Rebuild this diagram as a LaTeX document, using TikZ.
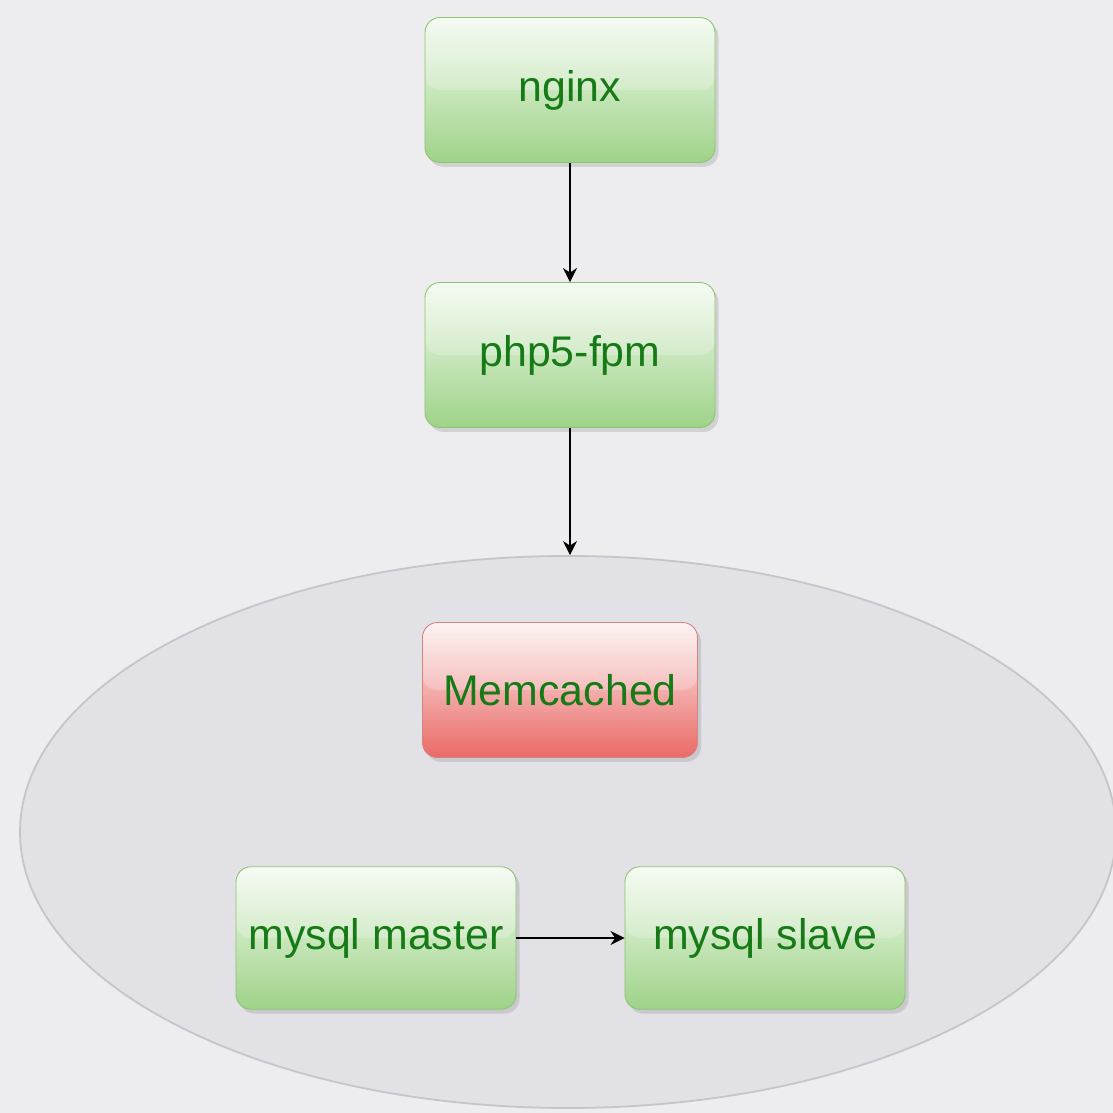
\documentclass[tikz,border=0pt]{standalone}
\usepackage{fontspec}
\setmainfont{Liberation Sans}
\usetikzlibrary{shapes.geometric,shadows,arrows.meta}

\definecolor{bggray}{RGB}{237,237,240}
\definecolor{ellfill}{RGB}{226,225,230}
\definecolor{elldraw}{RGB}{196,196,202}
\definecolor{greentop}{RGB}{243,250,240}
\definecolor{greenmid}{RGB}{184,225,165}
\definecolor{greenbot}{RGB}{158,211,136}
\definecolor{greenline}{RGB}{140,196,112}
\definecolor{redtop}{RGB}{253,241,241}
\definecolor{redmid}{RGB}{240,160,158}
\definecolor{redbot}{RGB}{233,106,102}
\definecolor{redline}{RGB}{214,130,128}
\definecolor{labelgreen}{RGB}{22,122,22}

\tikzset{
  box/.style={rectangle,rounded corners=0.3cm,draw=greenline,line width=0.5pt,
    top color=greentop,middle color=greenmid,bottom color=greenbot,
    drop shadow={opacity=0.25,shadow xshift=2pt,shadow yshift=-2.5pt},
    path picture={\fill[white,opacity=0.22]
      (path picture bounding box.north west) rectangle (path picture bounding box.east);},
    text=labelgreen,font=\fontsize{24.4}{28}\selectfont,inner sep=2pt,
    minimum width=5.6cm,minimum height=2.85cm},
  redbox/.style={draw=redline,top color=redtop,middle color=redmid,bottom color=redbot},
  cluster/.style={ellipse,draw=elldraw,fill=ellfill,line width=1pt,inner sep=0pt,
    minimum width=21.92cm,minimum height=11.04cm}
}

\begin{document}
\begin{tikzpicture}

      \fill[bggray] (0,0) rectangle (22.26,22.26);
      \useasboundingbox (0,0) rectangle (22.26,22.26);

      \node[cluster] (db) at (11.36,5.62) {};

      \begin{scope}[every node/.style={box}]
        \node[minimum width=5.8cm,minimum height=2.9cm] (nginx) at (11.40,20.46) {nginx};
        \node[minimum width=5.8cm,minimum height=2.9cm] (php)   at (11.40,15.16) {php5-fpm};
        \node[redbox,minimum width=5.5cm,minimum height=2.7cm] (memcached) at (11.20,8.46) {Memcached};
        \node (master) at (7.52,3.50)  {mysql master};
        \node (slave)  at (15.30,3.50) {mysql slave};
      \end{scope}

      \begin{scope}[every edge/.style={draw,line width=0.7pt,-{Stealth[length=8pt,width=8pt]}}]
        \path (nginx)  edge (php);
        \path (php)    edge (php.south |- db.north);
        \path (master) edge (slave);
      \end{scope}

    \end{tikzpicture}
\end{document}
